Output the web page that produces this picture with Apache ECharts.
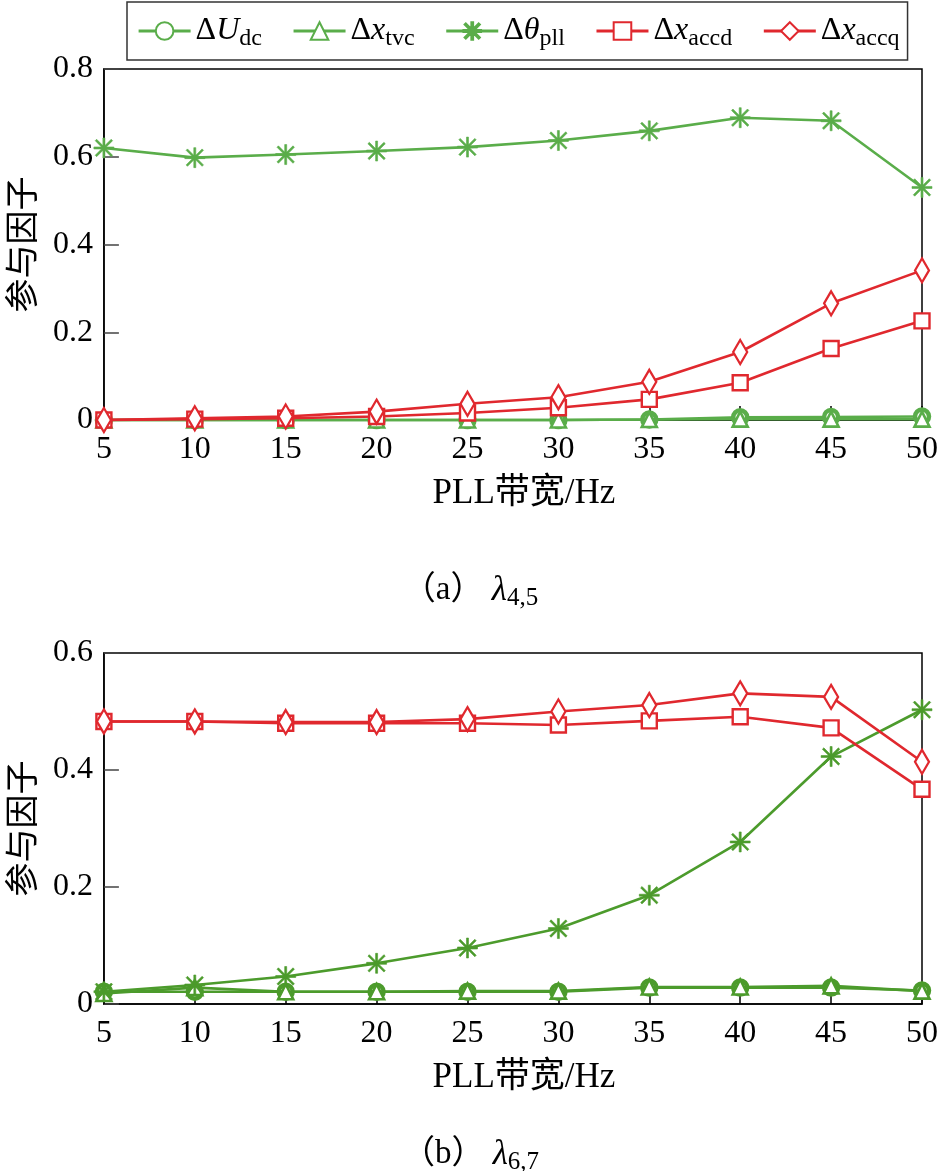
<!DOCTYPE html>
<html><head><meta charset="utf-8">
<script src="https://cdn.jsdelivr.net/npm/echarts@6/dist/echarts.min.js"></script>
<style>html,body{margin:0;padding:0;background:#fff}#c{width:941px;height:1171px}</style>
</head><body><div id="c"></div>
<script>
// ---- data ----
const bandwidth = [5, 10, 15, 20, 25, 30, 35, 40, 45, 50];
const xName = 'PLL带宽/Hz';
const yName = '参与因子';
const seriesNames = ['Udc', 'xtvc', 'theta', 'accd', 'accq'];
// (a) lambda 4,5
const a_Udc   = [0, 0, 0, 0, 0, 0, 0.001, 0.006, 0.007, 0.008];
const a_xtvc  = [0, 0, 0, 0, 0, 0, 0.001, 0.002, 0.002, 0.002];
const a_theta = [0.620, 0.598, 0.605, 0.613, 0.622, 0.637, 0.659, 0.689, 0.682, 0.530];
const a_accd  = [0, 0.002, 0.004, 0.008, 0.016, 0.028, 0.047, 0.085, 0.163, 0.226];
const a_accq  = [0, 0.004, 0.008, 0.019, 0.037, 0.052, 0.087, 0.155, 0.266, 0.341];
// (b) lambda 6,7
const b_Udc   = [0.021, 0.021, 0.021, 0.021, 0.021, 0.021, 0.028, 0.028, 0.028, 0.023];
const b_xtvc  = [0.018, 0.028, 0.021, 0.021, 0.022, 0.022, 0.029, 0.029, 0.031, 0.022];
const b_theta = [0.021, 0.0325, 0.047, 0.0695, 0.0957, 0.129, 0.186, 0.277, 0.423, 0.503];
const b_accd  = [0.483, 0.483, 0.480, 0.480, 0.480, 0.477, 0.484, 0.491, 0.472, 0.367];
const b_accq  = [0.483, 0.483, 0.482, 0.482, 0.487, 0.500, 0.511, 0.531, 0.525, 0.414];
const a_yTicks = {min: 0, max: 0.8, interval: 0.2};
const b_yTicks = {min: 0, max: 0.6, interval: 0.2};

// ---- styles ----
const SERIF = 'Liberation Serif, Times New Roman, serif';
const CJK = 'Liberation Serif, Noto Sans CJK SC, serif';
const GREEN_A = '#5aad4a', GREEN_B = '#4c9b2c', RED = '#e0282e';
const ASTER = 'path://M9 0L11 0L11 20L9 20Z M0 9L20 9L20 11L0 11Z M2.7 1.3L18.7 17.3L17.3 18.7L1.3 2.7Z M17.3 1.3L18.7 2.7L2.7 18.7L1.3 17.3Z';

function mk(name, data, g, sym, size, color, fill, bw, z) {
  return {
    name, type: 'line', xAxisIndex: g, yAxisIndex: g,
    data: bandwidth.map((x, i) => [x, data[i]]),
    symbol: sym, symbolSize: size, clip: false, z,
    lineStyle: {color, width: 2.6},
    itemStyle: {color: fill, borderColor: color, borderWidth: bw},
    emphasis: {disabled: true}
  };
}
function grp(g, d, green) {
  return [
    mk('Udc', d[0], g, 'circle', 14, green, '#fff', 4.5, 2),
    mk('xtvc', d[1], g, 'triangle', 15, green, '#fff', 2.6, 3),
    mk('theta', d[2], g, ASTER, 20, green, green, 0.6, 4),
    mk('accd', d[3], g, 'rect', 15, RED, '#fff', 2.4, 5),
    mk('accq', d[4], g, 'diamond', [14, 24], RED, '#fff', 2.4, 6)
  ];
}
function xAx(g) {
  return {
    type: 'value', gridIndex: g, min: 5, max: 50, interval: 5,
    name: xName, nameLocation: 'middle', nameGap: 56,
    nameTextStyle: {fontFamily: CJK, fontSize: 35, color: '#000', padding: [0, 0, 0, 22]},
    axisLine: {lineStyle: {color: '#000', width: 1.5}},
    axisTick: {inside: true, length: 14, lineStyle: {color: '#000', width: 1.5}},
    axisLabel: {fontFamily: SERIF, fontSize: 32, color: '#000', margin: 14},
    splitLine: {show: false}
  };
}
function yAx(g, t) {
  return {
    type: 'value', gridIndex: g, min: t.min, max: t.max, interval: t.interval,
    name: yName, nameLocation: 'middle', nameRotate: 90, nameGap: 57,
    nameTextStyle: {fontFamily: CJK, fontSize: 34, color: '#000'},
    axisLine: {lineStyle: {color: '#000', width: 1.5}},
    axisTick: {inside: true, length: 15, lineStyle: {color: '#444', width: 1.5}},
    axisLabel: {fontFamily: SERIF, fontSize: 32, color: '#000', margin: 11},
    splitLine: {show: false}
  };
}
const legendText = {
  Udc: '{n|Δ}{i|U}{s|dc}', xtvc: '{n|Δ}{i|x}{s|tvc}', theta: '{n|Δ}{i|θ}{s|pll}',
  accd: '{n|Δ}{i|x}{s|accd}', accq: '{n|Δ}{i|x}{s|accq}'
};
const capRich = {
  l: {fontFamily: SERIF, fontSize: 35, fontStyle: 'italic', color: '#000'},
  s: {fontFamily: SERIF, fontSize: 25, color: '#000', padding: [16, 0, 0, 0]}
};
const chart = echarts.init(document.getElementById('c'), null, {renderer: 'canvas'});
chart.setOption({
  animation: false,
  backgroundColor: '#fff',
  legend: {
    data: seriesNames, left: 127, top: 2, orient: 'horizontal',
    itemWidth: 52, itemHeight: 22, itemGap: 30,
    padding: [9, 8, 9, 10],
    borderColor: '#333', borderWidth: 1.5,
    lineStyle: {width: 3.2},
    formatter: n => legendText[n],
    textStyle: {
      rich: {
        n: {fontFamily: SERIF, fontSize: 32, color: '#000', lineHeight: 36},
        i: {fontFamily: SERIF, fontSize: 32, fontStyle: 'italic', color: '#000', lineHeight: 36},
        s: {fontFamily: SERIF, fontSize: 24, color: '#000', lineHeight: 36, padding: [16, 0, 0, 0]}
      }
    }
  },
  title: [
    {text: '（a） {l|λ}{s|4,5}', left: 'center', top: 565,
     textStyle: {fontFamily: CJK, fontSize: 33, fontWeight: 'normal', color: '#000', rich: capRich}},
    {text: '（b） {l|λ}{s|6,7}', left: 'center', top: 1129,
     textStyle: {fontFamily: CJK, fontSize: 33, fontWeight: 'normal', color: '#000', rich: capRich}}
  ],
  grid: [
    {left: 102, right: 13, top: 69, height: 351, show: true, borderColor: '#000', borderWidth: 1.5},
    {left: 102, right: 13, top: 653, height: 351, show: true, borderColor: '#000', borderWidth: 1.5}
  ],
  xAxis: [xAx(0), xAx(1)],
  yAxis: [yAx(0, a_yTicks), yAx(1, b_yTicks)],
  series: [
    ...grp(0, [a_Udc, a_xtvc, a_theta, a_accd, a_accq], GREEN_A),
    ...grp(1, [b_Udc, b_xtvc, b_theta, b_accd, b_accq], GREEN_B)
  ]
});
</script>
</body></html>
